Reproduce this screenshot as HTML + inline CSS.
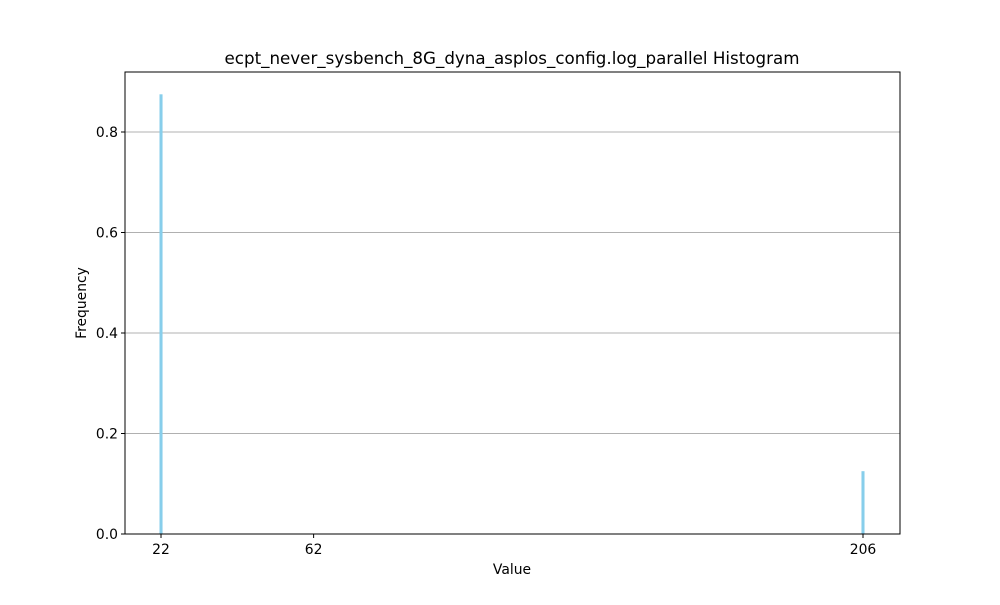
<!DOCTYPE html>
<html><head><meta charset="utf-8"><style>
body{margin:0;background:#fff;font-family:"Liberation Sans","DejaVu Sans",sans-serif;}
</style></head><body>
<svg id="chart" width="1000" height="600" xmlns="http://www.w3.org/2000/svg" font-family="DejaVu Sans, Liberation Sans, sans-serif">
<rect width="1000" height="600" fill="#fff"/>
<text x="512" y="64" text-anchor="middle" font-size="16.7">ecpt_never_sysbench_8G_dyna_asplos_config.log_parallel Histogram</text>
<g id="grid"></g>
<g id="bars"></g>
<rect x="125" y="72" width="775" height="462" fill="none" stroke="#000" stroke-width="1"/>
<g id="axes" font-size="13.9"></g>
<text x="512" y="574" text-anchor="middle" font-size="13.9">Value</text>
<text transform="translate(86,303) rotate(-90)" text-anchor="middle" font-size="13.9">Frequency</text>
</svg>
<script>
const categories = [22, 206];
const frequencies = [0.875, 0.125];
const xTicks = [22, 62, 206];
const yTicks = [0.0, 0.2, 0.4, 0.6, 0.8];

const NS = "http://www.w3.org/2000/svg";
const X0 = 125, X1 = 900, Y0 = 534, Y1 = 72;
const xMin = 12.56, xMax = 215.7;
const yMax = 0.9194;
const xs = v => X0 + (v - xMin) / (xMax - xMin) * (X1 - X0);
const ys = v => Y0 - v / yMax * (Y0 - Y1);
function mk(tag, attrs, parent) {
  const e = document.createElementNS(NS, tag);
  for (const k in attrs) e.setAttribute(k, attrs[k]);
  parent.appendChild(e);
  return e;
}
const grid = document.getElementById('grid');
const bars = document.getElementById('bars');
const axes = document.getElementById('axes');
yTicks.forEach(t => {
  const y = ys(t);
  if (t > 0) {
    const g = mk('line', {x1: X0, x2: X1, y1: y, y2: y, stroke: '#b0b0b0', 'stroke-width': 1}, grid);
    
    
  }
  const tk = mk('line', {x1: X0 - 4, x2: X0, y1: y, y2: y, stroke: '#000'}, axes);
  
  
  const lb = mk('text', {x: X0 - 7, y: y + 5, 'text-anchor': 'end'}, axes);
  lb.textContent = t.toFixed(1);
  
  
});
xTicks.forEach(t => {
  const x = xs(t);
  const tk = mk('line', {x1: x, x2: x, y1: Y0, y2: Y0 + 4, stroke: '#000'}, axes);
  
  
  const lb = mk('text', {x: x, y: Y0 + 20, 'text-anchor': 'middle'}, axes);
  lb.textContent = t;
  
  
});
const bw = 0.8;
categories.forEach((c, i) => {
  const xl = xs(c - bw / 2), xr = xs(c + bw / 2);
  const y = ys(frequencies[i]);
  const b = mk('rect', {x: xl, y: y, width: xr - xl, height: Y0 - y, fill: '#87CEEB'}, bars);
  
  
});
</script>
</body></html>
